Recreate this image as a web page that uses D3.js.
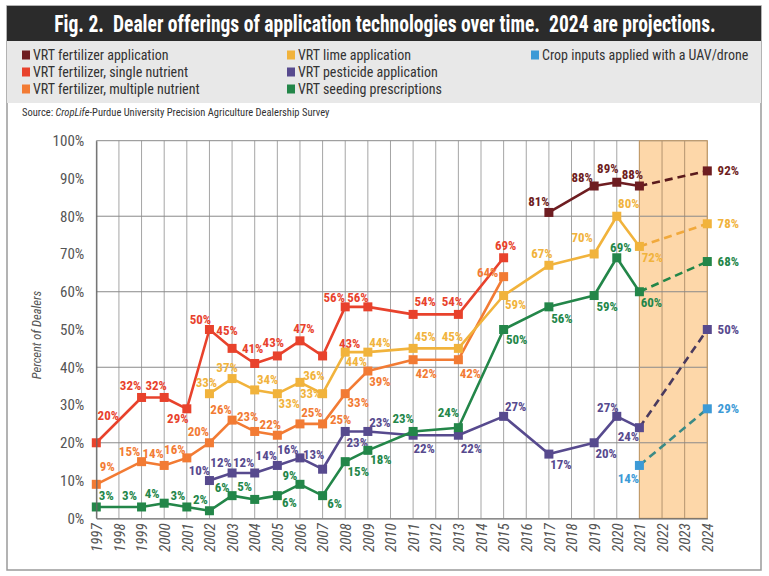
<!DOCTYPE html>
<html>
<head>
<meta charset="utf-8">
<script src="https://cdn.jsdelivr.net/npm/d3@7"></script>
<style>
  body { margin: 0; background: #fff; }
  text { font-family: "Liberation Sans Narrow", "Roboto Condensed", "DejaVu Sans Condensed", "Liberation Sans", sans-serif; }
</style>
</head>
<body>
<script>
const svgWidth = 769
const svgHeight = 576

const years = [1997, 1998, 1999, 2000, 2001, 2002, 2003, 2004, 2005, 2006, 2007, 2008, 2009, 2010,
    2011, 2012, 2013, 2014, 2015, 2016, 2017, 2018, 2019, 2020, 2021, 2022, 2023, 2024]
const yTicks = [0, 10, 20, 30, 40, 50, 60, 70, 80, 90, 100]

// one value per year, null where the survey has no point
const fertApp = [null, null, null, null, null, null, null, null, null, null, null, null, null, null,
    null, null, null, null, null, null, 81, null, 88, 89, 88, null, null, 92]
const singleNutrient = [20, null, 32, 32, 29, 50, 45, 41, 43, 47, 43, 56, 56, null,
    54, null, 54, null, 69, null, null, null, null, null, null, null, null, null]
const multiNutrient = [9, null, 15, 14, 16, 20, 26, 23, 22, 25, 25, 33, 39, null,
    42, null, 42, null, 64, null, null, null, null, null, null, null, null, null]
const lime = [null, null, null, null, null, 33, 37, 34, 33, 36, 33, 44, 44, null,
    45, null, 45, null, 59, null, 67, null, 70, 80, 72, null, null, 78]
const pesticide = [null, null, null, null, null, 10, 12, 12, 14, 16, 13, 23, 23, null,
    22, null, 22, null, 27, null, 17, null, 20, 27, 24, null, null, 50]
const seeding = [3, null, 3, 4, 3, 2, 6, 5, 6, 9, 6, 15, 18, null,
    23, null, 24, null, 50, null, 56, null, 59, 69, 60, null, null, 68]
const drone = [null, null, null, null, null, null, null, null, null, null, null, null, null, null,
    null, null, null, null, null, null, null, null, null, null, 14, null, null, 29]

const seriesNames = ["VRT fertilizer application", "VRT fertilizer, single nutrient",
    "VRT fertilizer, multiple nutrient", "VRT lime application", "VRT pesticide application",
    "VRT seeding prescriptions", "Crop inputs applied with a UAV/drone"]

const projectionStart = 2021

// label offsets (dx, dy) from each point, in point order
const labelOffsets = {
    fertApp: [[-10, -11], [-12, -9], [-9, -14], [-7, -12], [21, 0]],
    singleNutrient: [[12, -27], [-11, -12], [-8, -12], [-9, 10], [-9, -10], [-5, -18], [-2, -15], [-4, -13],
        [4, -12], [27, -12], [-11, -9], [-10, -9], [12, -13], [-6, -13], [2, -12]],
    multiNutrient: [[11, -18], [-12, -10], [-11, -12], [-12, -8], [-11, -11], [-11, -11], [-7, -15], [-7, -11],
        [12, -11], [18, -4], [13, 9], [12, 10], [13, 14], [12, 14], [-16, -4]],
    lime: [[-3, -11], [-5, -11], [13, -10], [12, 10], [14, -7], [-12, 0], [11, 9], [12, -10], [12, -12],
        [-6, -12], [12, 9], [-7, -12], [-12, -17], [12, -13], [13, 11], [21, 0]],
    pesticide: [[-10, -10], [-11, -11], [-11, -11], [-11, -10], [-12, -8], [-9, -15], [12, 11], [12, -9],
        [11, 13], [13, 13], [12, -10], [12, 10], [12, 11], [-9, -9], [-11, 9], [21, 0]],
    seeding: [[10, -12], [-12, -12], [-12, -10], [-9, -12], [-9, -11], [-10, -8], [-10, -13], [12, 7],
        [-10, -9], [12, 8], [13, 10], [13, 9], [-10, -13], [-10, -15], [13, 10], [13, 12], [13, 11],
        [4, -10], [12, 11], [21, 0]],
    drone: [[-11, 13], [21, 0]]
}

const series = [
    { key: "fertApp", values: fertApp, color: "#6e1d21", dash: "#5a1a1c" },
    { key: "singleNutrient", values: singleNutrient, color: "#e8422c", dash: "#e8422c" },
    { key: "multiNutrient", values: multiNutrient, color: "#f27b34", dash: "#f27b34" },
    { key: "lime", values: lime, color: "#f1b33c", dash: "#f1a93c" },
    { key: "pesticide", values: pesticide, color: "#574a8e", dash: "#4a3a5e" },
    { key: "seeding", values: seeding, color: "#238649", dash: "#238649" },
    { key: "drone", values: drone, color: "#3c9ad6", dash: "#3b8a86" }
]

const condensed = "'Liberation Sans Narrow', 'Roboto Condensed', 'DejaVu Sans Condensed', sans-serif"

const svg = d3.select("body").append("svg")
    .attr("width", svgWidth)
    .attr("height", svgHeight)

// frame, title bar, legend band
svg.append("rect")
    .attr("x", 7).attr("y", 6).attr("width", 754).attr("height", 564)
    .attr("fill", "#fff").attr("stroke", "#9a9a9a").attr("stroke-width", 1.5)
svg.append("rect")
    .attr("x", 7).attr("y", 6).attr("width", 754).attr("height", 35)
    .attr("fill", "#2b2b2b")
svg.append("rect")
    .attr("x", 7).attr("y", 41).attr("width", 754).attr("height", 62)
    .attr("fill", "#e8e8e8")

// title squeezed horizontally to the condensed look of the original
svg.append("text")
    .attr("transform", "translate(385, 32) scale(0.85, 1)")
    .attr("text-anchor", "middle")
    .attr("fill", "#fff")
    .attr("font-size", 23)
    .attr("font-weight", "bold")
    .style("white-space", "pre")
    .text("Fig. 2.  Dealer offerings of application technologies over time.  2024 are projections.")

const legendPos = [[22, 55], [22, 72], [22, 89], [287, 55], [287, 72], [287, 89], [531, 55]]
const legend = svg.append("g")
series.forEach((s, i) => {
    const [lx, ly] = legendPos[i]
    legend.append("rect")
        .attr("x", lx).attr("y", ly - 4.5).attr("width", 8).attr("height", 9)
        .attr("fill", s.color)
    legend.append("text")
        .attr("x", lx + 11).attr("y", ly)
        .attr("dy", "0.35em")
        .attr("font-size", 14)
        .attr("fill", "#333")
        .text(seriesNames[i])
})

const source = svg.append("text")
    .attr("x", 22).attr("y", 112).attr("dy", "0.35em")
    .attr("font-size", 10.5).attr("fill", "#333")
source.append("tspan").text("Source: ")
source.append("tspan").attr("font-style", "italic").text("CropLife")
source.append("tspan").text("-Purdue University Precision Agriculture Dealership Survey")

// scales
const x = d3.scaleLinear()
    .domain([1997, 2024])
    .range([96.3, 707.3])
const y = d3.scaleLinear()
    .domain([0, 100])
    .range([518.3, 140.7])

const plot = svg.append("g")

// projection band
plot.append("rect")
    .attr("x", x(projectionStart)).attr("y", y(100))
    .attr("width", x(2024) - x(projectionStart)).attr("height", y(0) - y(100))
    .attr("fill", "#fdd7a9")

// grid
plot.selectAll(".vgrid")
    .data(years)
    .enter()
    .append("line")
    .attr("x1", d => x(d)).attr("x2", d => x(d))
    .attr("y1", y(100)).attr("y2", y(0))
    .attr("stroke", d => d >= projectionStart ? "#b59570" : "#a5a5a5")
    .attr("stroke-width", 1)
plot.selectAll(".hgrid")
    .data(yTicks.filter(d => d % 20 === 0 && d > 0))
    .enter()
    .append("line")
    .attr("x1", x(1997)).attr("x2", x(2024))
    .attr("y1", d => y(d)).attr("y2", d => y(d))
    .attr("stroke", "#8a8a8a")
    .attr("stroke-width", 1)

plot.append("rect")
    .attr("x", x(projectionStart)).attr("y", y(100))
    .attr("width", x(2024) - x(projectionStart)).attr("height", y(0) - y(100))
    .attr("fill", "none").attr("stroke", "#c49c6a").attr("stroke-width", 1)

// axes
const yAxis = d3.axisLeft(y).tickValues(yTicks).tickFormat(d => d + "%").tickSize(0).tickPadding(12)
const yAxisG = svg.append("g")
    .attr("transform", `translate(${x(1997)}, 0)`)
    .call(yAxis)
yAxisG.select(".domain").attr("stroke", "#666").attr("stroke-width", 1.2)
yAxisG.selectAll("text")
    .attr("font-size", 15).attr("fill", "#555")
    .style("font-family", condensed)

const xAxis = d3.axisBottom(x).tickValues(years).tickFormat(d3.format("d")).tickSize(0)
const xAxisG = svg.append("g")
    .attr("transform", `translate(0, ${y(0)})`)
    .call(xAxis)
xAxisG.select(".domain").attr("stroke", "#666").attr("stroke-width", 1.2)
xAxisG.selectAll("text")
    .attr("transform", "rotate(-90)")
    .attr("text-anchor", "end")
    .attr("x", -5).attr("y", 0).attr("dy", "0.35em")
    .attr("font-size", 15).attr("font-style", "italic").attr("fill", "#555")
    .style("font-family", condensed)

svg.append("text")
    .attr("transform", "translate(41, 335) rotate(-90)")
    .attr("text-anchor", "middle")
    .attr("font-size", 12.5).attr("font-style", "italic").attr("fill", "#555")
    .text("Percent of Dealers")

// series
const line = d3.line()
    .x(d => x(d.year))
    .y(d => y(d.value))

series.forEach(s => {
    const pts = years.map((yr, i) => ({ year: yr, value: s.values[i] }))
        .filter(d => d.value !== null)
    const solid = pts.filter(d => d.year <= projectionStart)
    const proj = pts.filter(d => d.year >= projectionStart)
    const g = plot.append("g")

    if (solid.length > 1) {
        g.append("path")
            .attr("d", line(solid))
            .attr("fill", "none")
            .attr("stroke", s.color)
            .attr("stroke-width", 2.6)
            .attr("stroke-linejoin", "round")
    }
    if (proj.length > 1) {
        g.append("path")
            .attr("d", line(proj))
            .attr("fill", "none")
            .attr("stroke", s.dash)
            .attr("stroke-width", 2.6)
            .attr("stroke-dasharray", "8,5")
    }

    g.selectAll("rect")
        .data(pts)
        .enter()
        .append("rect")
        .attr("x", d => x(d.year) - 4.5)
        .attr("y", d => y(d.value) - 4.5)
        .attr("width", 9).attr("height", 9)
        .attr("fill", s.color)

    const offs = labelOffsets[s.key]
    g.selectAll("text")
        .data(pts)
        .enter()
        .append("text")
        .attr("x", (d, i) => x(d.year) + offs[i][0])
        .attr("y", (d, i) => y(d.value) + offs[i][1])
        .attr("dy", "0.35em")
        .attr("text-anchor", "middle")
        .attr("font-size", 13)
        .attr("font-weight", "bold")
        .attr("fill", s.color)
        .text(d => d.value + "%")
})
</script>
</body>
</html>
